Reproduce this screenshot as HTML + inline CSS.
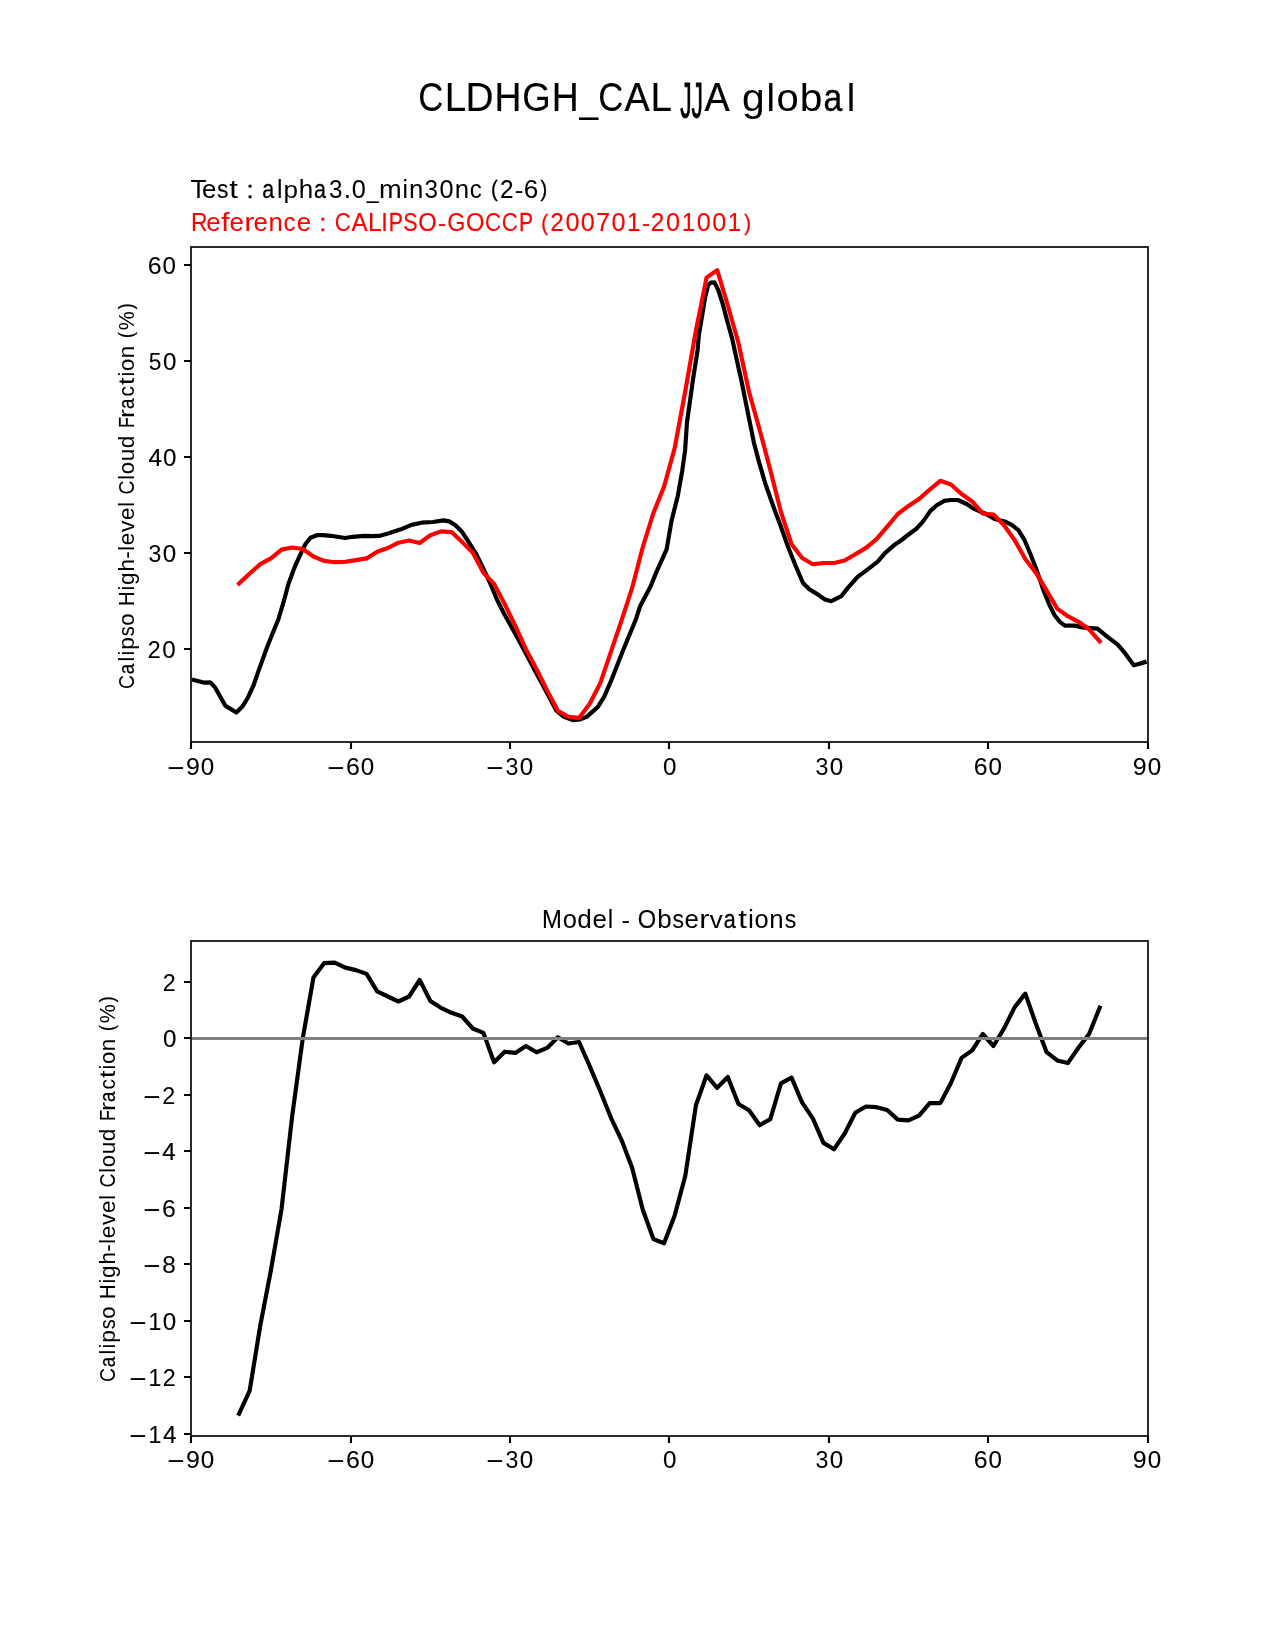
<!DOCTYPE html>
<html><head><meta charset="utf-8"><style>html,body{margin:0;padding:0;background:#fff}svg{display:block;will-change:transform}</style></head><body>
<svg width="1275" height="1650" viewBox="0 0 1275 1650">
<rect width="1275" height="1650" fill="#fff"/>
<defs><clipPath id="c1"><rect x="191.25" y="247.50" width="956.25" height="495.00"/></clipPath>
<clipPath id="c2"><rect x="191.25" y="940.50" width="956.25" height="495.00"/></clipPath></defs>
<g clip-path="url(#c1)" fill="none" stroke-width="4.17" stroke-linejoin="round" stroke-linecap="square">
<polyline stroke="#000" points="193.90,680.00 204.50,682.70 210.10,682.30 215.10,687.40 225.20,705.60 236.40,712.50 242.70,706.20 247.70,698.00 253.40,685.70 257.80,672.90 267.80,645.30 278.50,619.00 284.10,600.20 288.50,583.80 295.40,565.30 302.30,550.30 305.50,544.00 310.50,537.70 316.80,535.20 323.00,535.20 331.20,535.80 335.60,536.50 345.00,538.00 352.70,536.80 364.00,535.90 371.50,536.20 379.00,535.90 388.90,533.30 400.20,529.60 411.50,524.90 421.50,522.70 432.80,522.00 443.50,520.40 449.20,521.40 455.40,525.20 461.70,531.40 466.70,539.00 475.50,552.80 483.00,567.80 490.60,584.20 496.80,599.20 504.40,614.30 516.30,635.40 526.30,654.20 537.60,675.50 547.70,694.30 556.40,710.70 564.00,716.90 572.80,720.10 580.30,719.40 586.60,716.90 597.90,706.90 604.10,696.90 611.70,679.30 623.00,650.40 635.50,620.30 640.20,606.00 650.30,587.00 656.50,571.90 666.60,549.30 671.60,520.50 677.90,495.40 682.30,470.30 685.10,450.00 687.00,422.10 690.10,400.20 693.20,378.20 697.60,350.00 698.80,335.30 702.00,316.50 705.10,297.60 708.20,285.10 710.70,282.60 714.50,282.30 718.30,290.10 722.70,303.90 727.70,322.70 732.10,338.40 736.80,360.00 741.30,380.00 746.30,405.10 750.10,423.90 753.90,442.70 758.90,461.60 765.40,483.90 772.90,505.30 780.40,525.30 788.00,546.70 795.50,565.50 803.00,583.00 809.30,589.30 815.60,593.10 825.00,599.40 831.30,601.20 841.30,596.20 847.60,588.10 857.60,576.80 867.70,569.30 877.70,561.70 885.20,552.90 895.30,544.20 900.30,541.00 906.60,536.00 916.60,528.50 922.90,521.60 930.40,510.90 936.70,505.30 944.20,500.90 950.50,500.00 958.00,500.00 966.80,504.00 973.10,508.40 987.00,514.50 994.50,518.90 1004.60,521.40 1012.10,525.20 1018.40,530.20 1024.60,540.20 1030.90,555.30 1037.20,571.60 1043.50,590.40 1049.70,605.50 1054.80,615.50 1059.80,621.80 1064.80,625.60 1074.80,625.60 1082.40,627.40 1089.90,628.10 1097.40,628.70 1107.50,636.90 1117.50,644.40 1125.00,653.20 1133.80,665.30 1137.60,664.20 1144.60,662.20"/>
<polyline stroke="#f00" points="239.06,583.50 249.69,573.50 260.31,564.10 270.94,558.40 281.56,549.60 292.19,547.50 302.81,549.00 313.44,556.50 324.06,560.90 334.69,562.20 345.31,561.80 355.94,560.10 366.56,558.40 377.19,551.80 387.81,548.00 398.44,542.70 409.06,540.50 419.69,543.00 430.31,535.20 440.94,531.40 451.56,532.10 462.19,542.10 472.81,552.80 483.44,572.90 494.06,583.90 504.69,604.00 515.31,626.00 525.94,649.20 536.56,669.20 547.19,690.60 557.81,710.70 568.44,716.90 579.06,717.90 589.69,703.80 600.31,683.10 610.94,651.70 621.56,620.30 632.19,587.70 642.81,547.00 653.44,512.90 664.06,486.60 674.69,448.00 685.31,391.00 695.94,330.30 706.56,277.60 717.19,270.10 727.81,305.50 738.44,343.00 749.06,392.00 759.69,430.00 770.31,470.00 780.94,512.00 791.56,544.20 802.19,558.00 812.81,564.20 823.44,563.00 834.06,563.00 844.69,560.50 855.31,554.20 865.94,547.90 876.56,539.10 887.19,526.60 897.81,514.00 908.44,505.90 919.06,499.00 929.69,489.60 940.31,480.80 950.94,484.50 961.56,494.00 972.19,501.50 982.81,513.50 993.44,514.50 1004.06,525.20 1014.69,540.20 1025.31,559.10 1035.94,572.90 1046.56,590.40 1057.19,608.60 1067.81,616.20 1078.44,621.80 1089.06,629.30 1099.69,641.30"/>
</g>
<g clip-path="url(#c2)" fill="none" stroke-linejoin="round" stroke-linecap="square">
<polyline stroke="#000" stroke-width="4.17" points="239.06,1413.80 249.69,1390.60 260.31,1325.30 270.94,1270.10 281.56,1209.00 292.19,1116.00 302.81,1038.00 313.44,977.60 324.06,963.20 334.69,962.60 345.31,967.60 355.94,970.10 366.56,973.90 377.19,991.40 387.81,996.50 398.44,1001.50 409.06,996.50 419.69,980.00 430.31,1000.90 440.94,1007.80 451.56,1012.80 462.19,1016.50 472.81,1028.50 483.44,1032.90 494.06,1062.30 504.69,1051.70 515.31,1052.90 525.94,1046.00 536.56,1052.30 547.19,1047.90 557.81,1037.30 568.44,1043.50 579.06,1042.00 589.69,1066.20 600.31,1091.30 610.94,1117.80 621.56,1140.10 632.19,1168.00 642.81,1209.80 653.44,1239.10 664.06,1243.30 674.69,1215.40 685.31,1175.70 695.94,1105.30 706.56,1075.30 717.19,1087.80 727.81,1077.00 738.44,1104.00 749.06,1110.30 759.69,1125.30 770.31,1119.10 780.94,1083.30 791.56,1077.60 802.19,1102.70 812.81,1118.40 823.44,1142.90 834.06,1149.20 844.69,1133.50 855.31,1112.80 865.94,1106.50 876.56,1107.20 887.19,1110.00 897.81,1119.60 908.44,1120.40 919.06,1115.60 929.69,1103.10 940.31,1103.10 950.94,1083.00 961.56,1057.90 972.19,1050.40 982.81,1034.00 993.44,1046.00 1004.06,1028.40 1014.69,1007.10 1025.31,993.60 1035.94,1024.00 1046.56,1052.20 1057.19,1060.40 1067.81,1063.10 1078.44,1047.80 1089.06,1034.00 1099.69,1007.70"/>
<line x1="191.25" x2="1147.50" y1="1038.5" y2="1038.5" stroke="#808080" stroke-width="3" stroke-linecap="butt"/>
</g>
<rect x="191" y="247" width="957" height="495" fill="none" stroke="#000" stroke-width="1.67" stroke-linejoin="miter"/>
<rect x="191" y="941" width="957" height="495" fill="none" stroke="#000" stroke-width="1.67" stroke-linejoin="miter"/>
<path d="M191 742V749.00M351 742V749.00M510 742V749.00M669 742V749.00M829 742V749.00M988 742V749.00M1148 742V749.00M191 1436V1443.00M351 1436V1443.00M510 1436V1443.00M669 1436V1443.00M829 1436V1443.00M988 1436V1443.00M1148 1436V1443.00M191 649H184.00M191 553H184.00M191 457H184.00M191 361H184.00M191 265H184.00M191 982H184.00M191 1038H184.00M191 1095H184.00M191 1151H184.00M191 1208H184.00M191 1264H184.00M191 1321H184.00M191 1377H184.00M191 1434H184.00" stroke="#000" stroke-width="2.08" fill="none"/>
<g font-family="Liberation Sans, sans-serif">
<g font-size="37.50" fill="#000" stroke="#000"><text transform="matrix(0.928 0 0 1.068 418.20 111.23)" stroke-width="0.03">C</text><text transform="matrix(1.029 0 0 1.060 444.63 111.10)" stroke-width="0.11">L</text><text transform="matrix(1.035 0 0 1.060 465.49 111.10)" stroke-width="0.13">D</text><text transform="matrix(0.995 0 0 1.060 494.48 111.10)" stroke-width="0.18">H</text><text transform="matrix(0.975 0 0 1.068 522.27 111.23)" stroke-width="0.10">G</text><text transform="matrix(0.995 0 0 1.060 551.73 111.10)" stroke-width="0.18">H</text><text transform="matrix(0.892 0 0 1.104 579.38 111.74)" stroke-width="0.02">_</text><text transform="matrix(0.928 0 0 1.068 598.33 111.23)" stroke-width="0.03">C</text><text transform="matrix(1.008 0 0 1.060 624.45 111.10)" stroke-width="0.22">A</text><text transform="matrix(1.029 0 0 1.060 650.38 111.10)" stroke-width="0.11">L</text><text transform="matrix(0.606 0 0 1.332 680.28 118.21)" stroke-width="0.66">J</text><text transform="matrix(0.606 0 0 1.332 691.41 118.21)" stroke-width="0.66">J</text><text transform="matrix(1.008 0 0 1.060 704.45 111.10)" stroke-width="0.22">A</text><text transform="matrix(1.087 0 0 1.032 742.10 110.86)" stroke="none">g</text><text transform="matrix(1.023 0 0 1.049 766.57 111.10)" stroke-width="0.02">l</text><text transform="matrix(1.064 0 0 1.047 776.38 111.24)" stroke-width="0.05">o</text><text transform="matrix(1.089 0 0 1.054 799.77 111.24)" stroke="none">b</text><text transform="matrix(0.898 0 0 1.047 823.57 111.24)" stroke-width="0.38">a</text><text transform="matrix(1.023 0 0 1.049 846.69 111.10)" stroke-width="0.02">l</text></g>
<g font-size="23.96" fill="#000" stroke="#000"><text transform="matrix(1.092 0 0 1.060 190.40 198.00)" stroke-width="0.02">T</text><text transform="matrix(1.079 0 0 1.048 201.94 198.10)" stroke="none">e</text><text transform="matrix(0.958 0 0 1.051 217.11 198.10)" stroke-width="0.09">s</text><text transform="matrix(1.300 0 0 1.074 229.24 197.80)" stroke="none">t</text><text transform="matrix(1.075 0 0 0.978 246.54 198.00)" stroke-width="0.32">:</text><text transform="matrix(0.900 0 0 1.048 262.23 198.10)" stroke-width="0.26">a</text><text transform="matrix(1.022 0 0 1.049 277.06 198.00)" stroke-width="0.02">l</text><text transform="matrix(1.087 0 0 1.031 283.58 197.86)" stroke="none">p</text><text transform="matrix(1.085 0 0 1.049 298.70 198.00)" stroke="none">h</text><text transform="matrix(0.900 0 0 1.048 313.98 198.10)" stroke-width="0.26">a</text><text transform="matrix(1.012 0 0 1.068 329.10 198.09)" stroke="none">3</text><text transform="matrix(1.082 0 0 1.165 343.65 198.00)" stroke-width="0.02">.</text><text transform="matrix(1.054 0 0 1.068 351.79 198.09)" stroke-width="0.09">0</text><text transform="matrix(0.892 0 0 1.103 366.66 198.40)" stroke-width="0.02">_</text><text transform="matrix(1.139 0 0 1.040 378.95 198.00)" stroke="none">m</text><text transform="matrix(1.022 0 0 1.049 402.45 198.00)" stroke-width="0.07">i</text><text transform="matrix(1.077 0 0 1.040 408.92 198.00)" stroke="none">n</text><text transform="matrix(1.012 0 0 1.068 424.47 198.09)" stroke="none">3</text><text transform="matrix(1.054 0 0 1.068 439.42 198.09)" stroke-width="0.09">0</text><text transform="matrix(1.077 0 0 1.040 454.67 198.00)" stroke="none">n</text><text transform="matrix(1.002 0 0 1.048 469.64 198.10)" stroke="none">c</text><text transform="matrix(0.843 0 0 0.957 491.01 196.42)" stroke-width="0.36">(</text><text transform="matrix(1.016 0 0 1.062 500.00 198.00)" stroke-width="0.09">2</text><text transform="matrix(1.077 0 0 1.025 514.73 197.96)" stroke-width="0.02">-</text><text transform="matrix(1.092 0 0 1.068 523.67 198.09)" stroke-width="0.05">6</text><text transform="matrix(0.845 0 0 0.957 540.38 196.42)" stroke-width="0.36">)</text></g>
<g font-size="23.96" fill="#f00" stroke="#f00"><text transform="matrix(0.956 0 0 1.060 191.12 231.20)" stroke-width="0.05">R</text><text transform="matrix(1.079 0 0 1.048 206.37 231.30)" stroke="none">e</text><text transform="matrix(1.300 0 0 1.049 221.04 231.20)" stroke="none">f</text><text transform="matrix(1.079 0 0 1.048 229.50 231.30)" stroke="none">e</text><text transform="matrix(1.281 0 0 1.040 244.16 231.20)" stroke="none">r</text><text transform="matrix(1.079 0 0 1.048 253.62 231.30)" stroke="none">e</text><text transform="matrix(1.077 0 0 1.040 268.61 231.20)" stroke="none">n</text><text transform="matrix(1.002 0 0 1.048 283.58 231.30)" stroke="none">c</text><text transform="matrix(1.079 0 0 1.048 296.75 231.30)" stroke="none">e</text><text transform="matrix(1.075 0 0 0.978 319.35 231.20)" stroke-width="0.32">:</text><text transform="matrix(0.928 0 0 1.068 334.73 231.29)" stroke-width="0.03">C</text><text transform="matrix(1.007 0 0 1.060 351.41 231.20)" stroke-width="0.14">A</text><text transform="matrix(1.030 0 0 1.060 367.97 231.20)" stroke-width="0.07">L</text><text transform="matrix(1.056 0 0 1.060 381.03 231.20)" stroke-width="0.02">I</text><text transform="matrix(0.884 0 0 1.060 388.76 231.20)" stroke-width="0.25">P</text><text transform="matrix(0.893 0 0 1.068 403.24 231.29)" stroke-width="0.14">S</text><text transform="matrix(0.990 0 0 1.068 418.23 231.29)" stroke-width="0.13">O</text><text transform="matrix(1.077 0 0 1.025 437.67 231.16)" stroke-width="0.02">-</text><text transform="matrix(0.975 0 0 1.068 447.31 231.29)" stroke-width="0.07">G</text><text transform="matrix(0.990 0 0 1.068 465.98 231.29)" stroke-width="0.13">O</text><text transform="matrix(0.928 0 0 1.068 484.98 231.29)" stroke-width="0.03">C</text><text transform="matrix(0.928 0 0 1.068 501.73 231.29)" stroke-width="0.03">C</text><text transform="matrix(0.884 0 0 1.060 518.88 231.20)" stroke-width="0.25">P</text><text transform="matrix(0.843 0 0 0.957 541.20 229.62)" stroke-width="0.36">(</text><text transform="matrix(1.016 0 0 1.062 550.18 231.20)" stroke-width="0.09">2</text><text transform="matrix(1.054 0 0 1.068 565.48 231.29)" stroke-width="0.09">0</text><text transform="matrix(1.054 0 0 1.068 580.86 231.29)" stroke-width="0.09">0</text><text transform="matrix(1.032 0 0 1.060 596.34 231.20)" stroke-width="0.20">7</text><text transform="matrix(1.054 0 0 1.068 611.48 231.29)" stroke-width="0.09">0</text><text transform="matrix(1.008 0 0 1.060 627.06 231.20)" stroke-width="0.16">1</text><text transform="matrix(1.077 0 0 1.025 641.67 231.16)" stroke-width="0.02">-</text><text transform="matrix(1.016 0 0 1.062 650.81 231.20)" stroke-width="0.09">2</text><text transform="matrix(1.054 0 0 1.068 666.11 231.29)" stroke-width="0.09">0</text><text transform="matrix(1.008 0 0 1.060 681.69 231.20)" stroke-width="0.16">1</text><text transform="matrix(1.054 0 0 1.068 696.86 231.29)" stroke-width="0.09">0</text><text transform="matrix(1.054 0 0 1.068 712.23 231.29)" stroke-width="0.09">0</text><text transform="matrix(1.008 0 0 1.060 727.81 231.20)" stroke-width="0.16">1</text><text transform="matrix(0.845 0 0 0.957 744.19 229.62)" stroke-width="0.36">)</text></g>
<g font-size="23.96" fill="#000" stroke="#000"><text transform="matrix(0.996 0 0 1.060 542.04 927.70)" stroke-width="0.08">M</text><text transform="matrix(1.063 0 0 1.048 562.64 927.80)" stroke-width="0.04">o</text><text transform="matrix(1.088 0 0 1.054 577.36 927.80)" stroke="none">d</text><text transform="matrix(1.079 0 0 1.048 592.62 927.80)" stroke="none">e</text><text transform="matrix(1.022 0 0 1.049 607.75 927.70)" stroke-width="0.02">l</text><text transform="matrix(1.077 0 0 1.025 621.42 927.66)" stroke-width="0.02">-</text><text transform="matrix(0.990 0 0 1.068 637.86 927.79)" stroke-width="0.13">O</text><text transform="matrix(1.087 0 0 1.054 657.15 927.80)" stroke="none">b</text><text transform="matrix(0.958 0 0 1.051 672.54 927.80)" stroke-width="0.09">s</text><text transform="matrix(1.079 0 0 1.048 684.62 927.80)" stroke="none">e</text><text transform="matrix(1.281 0 0 1.040 699.29 927.70)" stroke="none">r</text><text transform="matrix(1.078 0 0 1.034 709.65 927.70)" stroke-width="0.03">v</text><text transform="matrix(0.900 0 0 1.048 723.79 927.80)" stroke-width="0.26">a</text><text transform="matrix(1.300 0 0 1.074 738.30 927.50)" stroke="none">t</text><text transform="matrix(1.022 0 0 1.049 748.14 927.70)" stroke-width="0.07">i</text><text transform="matrix(1.063 0 0 1.048 754.39 927.80)" stroke-width="0.04">o</text><text transform="matrix(1.077 0 0 1.040 769.36 927.70)" stroke="none">n</text><text transform="matrix(0.958 0 0 1.051 784.67 927.80)" stroke-width="0.09">s</text></g>
<g font-size="22.92" fill="#000" stroke="#000"><text transform="matrix(1.288 0 0 1.171 167.53 776.55)" stroke-width="0.02">−</text><text transform="matrix(1.088 0 0 1.069 185.97 774.89)" stroke-width="0.02">9</text><text transform="matrix(1.055 0 0 1.069 200.87 774.89)" stroke-width="0.09">0</text></g>
<g font-size="22.92" fill="#000" stroke="#000"><text transform="matrix(1.288 0 0 1.171 167.53 1469.55)" stroke-width="0.02">−</text><text transform="matrix(1.088 0 0 1.069 185.97 1467.89)" stroke-width="0.02">9</text><text transform="matrix(1.055 0 0 1.069 200.87 1467.89)" stroke-width="0.09">0</text></g>
<g font-size="22.92" fill="#000" stroke="#000"><text transform="matrix(1.288 0 0 1.171 327.53 776.55)" stroke-width="0.02">−</text><text transform="matrix(1.091 0 0 1.069 346.02 774.89)" stroke-width="0.05">6</text><text transform="matrix(1.055 0 0 1.069 360.87 774.89)" stroke-width="0.09">0</text></g>
<g font-size="22.92" fill="#000" stroke="#000"><text transform="matrix(1.288 0 0 1.171 327.53 1469.55)" stroke-width="0.02">−</text><text transform="matrix(1.091 0 0 1.069 346.02 1467.89)" stroke-width="0.05">6</text><text transform="matrix(1.055 0 0 1.069 360.87 1467.89)" stroke-width="0.09">0</text></g>
<g font-size="22.92" fill="#000" stroke="#000"><text transform="matrix(1.288 0 0 1.171 486.53 776.55)" stroke-width="0.02">−</text><text transform="matrix(1.013 0 0 1.069 505.55 774.89)" stroke="none">3</text><text transform="matrix(1.055 0 0 1.069 519.75 774.89)" stroke-width="0.09">0</text></g>
<g font-size="22.92" fill="#000" stroke="#000"><text transform="matrix(1.288 0 0 1.171 486.53 1469.55)" stroke-width="0.02">−</text><text transform="matrix(1.013 0 0 1.069 505.55 1467.89)" stroke="none">3</text><text transform="matrix(1.055 0 0 1.069 519.75 1467.89)" stroke-width="0.09">0</text></g>
<g font-size="22.92" fill="#000" stroke="#000"><text transform="matrix(1.055 0 0 1.069 663.04 774.89)" stroke-width="0.09">0</text></g>
<g font-size="22.92" fill="#000" stroke="#000"><text transform="matrix(1.055 0 0 1.069 663.04 1467.89)" stroke-width="0.09">0</text></g>
<g font-size="22.92" fill="#000" stroke="#000"><text transform="matrix(1.013 0 0 1.069 815.47 774.89)" stroke="none">3</text><text transform="matrix(1.055 0 0 1.069 829.66 774.89)" stroke-width="0.09">0</text></g>
<g font-size="22.92" fill="#000" stroke="#000"><text transform="matrix(1.013 0 0 1.069 815.47 1467.89)" stroke="none">3</text><text transform="matrix(1.055 0 0 1.069 829.66 1467.89)" stroke-width="0.09">0</text></g>
<g font-size="22.92" fill="#000" stroke="#000"><text transform="matrix(1.091 0 0 1.069 973.72 774.89)" stroke-width="0.05">6</text><text transform="matrix(1.055 0 0 1.069 988.57 774.89)" stroke-width="0.09">0</text></g>
<g font-size="22.92" fill="#000" stroke="#000"><text transform="matrix(1.091 0 0 1.069 973.72 1467.89)" stroke-width="0.05">6</text><text transform="matrix(1.055 0 0 1.069 988.57 1467.89)" stroke-width="0.09">0</text></g>
<g font-size="22.92" fill="#000" stroke="#000"><text transform="matrix(1.088 0 0 1.069 1132.83 774.89)" stroke-width="0.02">9</text><text transform="matrix(1.055 0 0 1.069 1147.73 774.89)" stroke-width="0.09">0</text></g>
<g font-size="22.92" fill="#000" stroke="#000"><text transform="matrix(1.088 0 0 1.069 1132.83 1467.89)" stroke-width="0.02">9</text><text transform="matrix(1.055 0 0 1.069 1147.73 1467.89)" stroke-width="0.09">0</text></g>
<g font-size="22.92" fill="#000" stroke="#000"><text transform="matrix(1.015 0 0 1.063 147.83 657.90)" stroke-width="0.08">2</text><text transform="matrix(1.055 0 0 1.069 162.37 657.99)" stroke-width="0.09">0</text></g>
<g font-size="22.92" fill="#000" stroke="#000"><text transform="matrix(1.013 0 0 1.069 148.47 561.99)" stroke="none">3</text><text transform="matrix(1.055 0 0 1.069 162.66 561.99)" stroke-width="0.09">0</text></g>
<g font-size="22.92" fill="#000" stroke="#000"><text transform="matrix(1.054 0 0 1.059 148.44 465.90)" stroke-width="0.16">4</text><text transform="matrix(1.055 0 0 1.069 162.93 465.99)" stroke-width="0.09">0</text></g>
<g font-size="22.92" fill="#000" stroke="#000"><text transform="matrix(0.994 0 0 1.065 148.66 370.00)" stroke-width="0.03">5</text><text transform="matrix(1.055 0 0 1.069 162.98 369.99)" stroke-width="0.09">0</text></g>
<g font-size="22.92" fill="#000" stroke="#000"><text transform="matrix(1.091 0 0 1.069 147.72 273.99)" stroke-width="0.05">6</text><text transform="matrix(1.055 0 0 1.069 162.57 273.99)" stroke-width="0.09">0</text></g>
<g font-size="22.92" fill="#000" stroke="#000"><text transform="matrix(1.015 0 0 1.063 162.83 990.90)" stroke-width="0.08">2</text></g>
<g font-size="22.92" fill="#000" stroke="#000"><text transform="matrix(1.055 0 0 1.069 163.04 1046.99)" stroke-width="0.09">0</text></g>
<g font-size="22.92" fill="#000" stroke="#000"><text transform="matrix(1.288 0 0 1.171 143.53 1105.65)" stroke-width="0.02">−</text><text transform="matrix(1.015 0 0 1.063 162.20 1103.90)" stroke-width="0.08">2</text></g>
<g font-size="22.92" fill="#000" stroke="#000"><text transform="matrix(1.288 0 0 1.171 143.53 1161.65)" stroke-width="0.02">−</text><text transform="matrix(1.054 0 0 1.059 162.25 1159.90)" stroke-width="0.16">4</text></g>
<g font-size="22.92" fill="#000" stroke="#000"><text transform="matrix(1.288 0 0 1.171 143.53 1218.65)" stroke-width="0.02">−</text><text transform="matrix(1.091 0 0 1.069 162.02 1216.99)" stroke-width="0.05">6</text></g>
<g font-size="22.92" fill="#000" stroke="#000"><text transform="matrix(1.288 0 0 1.171 143.53 1274.65)" stroke-width="0.02">−</text><text transform="matrix(1.065 0 0 1.069 162.18 1272.99)" stroke-width="0.11">8</text></g>
<g font-size="22.92" fill="#000" stroke="#000"><text transform="matrix(1.288 0 0 1.171 129.53 1331.65)" stroke-width="0.02">−</text><text transform="matrix(1.006 0 0 1.059 148.46 1329.90)" stroke-width="0.16">1</text><text transform="matrix(1.055 0 0 1.069 162.87 1329.99)" stroke-width="0.09">0</text></g>
<g font-size="22.92" fill="#000" stroke="#000"><text transform="matrix(1.288 0 0 1.171 129.53 1387.65)" stroke-width="0.02">−</text><text transform="matrix(1.006 0 0 1.059 148.46 1385.90)" stroke-width="0.16">1</text><text transform="matrix(1.015 0 0 1.063 162.83 1385.90)" stroke-width="0.08">2</text></g>
<g font-size="22.92" fill="#000" stroke="#000"><text transform="matrix(1.288 0 0 1.171 129.53 1444.65)" stroke-width="0.02">−</text><text transform="matrix(1.006 0 0 1.059 148.46 1442.90)" stroke-width="0.16">1</text><text transform="matrix(1.054 0 0 1.059 162.88 1442.90)" stroke-width="0.16">4</text></g>
<g font-size="20.83" fill="#000" stroke="#000"><text transform="matrix(0 -0.929 1.069 0 134.08 688.99)" stroke-width="0.04">C</text><text transform="matrix(0 -0.900 1.049 0 134.08 674.21)" stroke-width="0.24">a</text><text transform="matrix(0 -1.017 1.048 0 134.00 661.38)" stroke-width="0.02">l</text><text transform="matrix(0 -1.017 1.048 0 134.00 655.49)" stroke-width="0.06">i</text><text transform="matrix(0 -1.089 1.031 0 133.88 649.75)" stroke="none">p</text><text transform="matrix(0 -0.959 1.052 0 134.08 636.34)" stroke-width="0.08">s</text><text transform="matrix(0 -1.063 1.049 0 134.08 625.82)" stroke-width="0.05">o</text><text transform="matrix(0 -0.995 1.059 0 134.00 606.32)" stroke-width="0.10">H</text><text transform="matrix(0 -1.017 1.048 0 134.00 590.49)" stroke-width="0.06">i</text><text transform="matrix(0 -1.086 1.033 0 133.87 584.97)" stroke="none">g</text><text transform="matrix(0 -1.086 1.048 0 134.00 571.59)" stroke="none">h</text><text transform="matrix(0 -1.076 1.029 0 134.00 558.77)" stroke-width="0.02">-</text><text transform="matrix(0 -1.017 1.048 0 134.00 550.76)" stroke-width="0.02">l</text><text transform="matrix(0 -1.079 1.049 0 134.08 545.23)" stroke-width="0.01">e</text><text transform="matrix(0 -1.080 1.035 0 134.00 532.01)" stroke-width="0.04">v</text><text transform="matrix(0 -1.079 1.049 0 134.08 519.98)" stroke-width="0.01">e</text><text transform="matrix(0 -1.017 1.048 0 134.00 506.76)" stroke-width="0.02">l</text><text transform="matrix(0 -0.929 1.069 0 134.08 494.61)" stroke-width="0.04">C</text><text transform="matrix(0 -1.017 1.048 0 134.00 479.76)" stroke-width="0.02">l</text><text transform="matrix(0 -1.063 1.049 0 134.08 474.20)" stroke-width="0.05">o</text><text transform="matrix(0 -1.079 1.068 0 134.08 461.36)" stroke="none">u</text><text transform="matrix(0 -1.086 1.054 0 134.08 448.34)" stroke="none">d</text><text transform="matrix(0 -0.857 1.059 0 134.00 428.08)" stroke-width="0.16">F</text><text transform="matrix(0 -1.283 1.041 0 134.00 418.05)" stroke="none">r</text><text transform="matrix(0 -0.900 1.049 0 134.08 409.08)" stroke-width="0.24">a</text><text transform="matrix(0 -1.003 1.049 0 134.08 396.53)" stroke="none">c</text><text transform="matrix(0 -1.300 1.073 0 133.82 385.05)" stroke="none">t</text><text transform="matrix(0 -1.017 1.048 0 134.00 376.62)" stroke-width="0.06">i</text><text transform="matrix(0 -1.063 1.049 0 134.08 371.07)" stroke-width="0.05">o</text><text transform="matrix(0 -1.079 1.041 0 134.00 358.14)" stroke="none">n</text><text transform="matrix(0 -0.843 0.956 0 132.61 338.08)" stroke-width="0.32">(</text><text transform="matrix(0 -1.027 1.081 0 134.16 330.29)" stroke="none">%</text><text transform="matrix(0 -0.846 0.956 0 132.61 309.34)" stroke-width="0.33">)</text></g>
<g font-size="20.83" fill="#000" stroke="#000"><text transform="matrix(0 -0.929 1.069 0 115.08 1381.99)" stroke-width="0.04">C</text><text transform="matrix(0 -0.900 1.049 0 115.08 1367.21)" stroke-width="0.24">a</text><text transform="matrix(0 -1.017 1.048 0 115.00 1354.38)" stroke-width="0.02">l</text><text transform="matrix(0 -1.017 1.048 0 115.00 1348.49)" stroke-width="0.06">i</text><text transform="matrix(0 -1.089 1.031 0 114.88 1342.75)" stroke="none">p</text><text transform="matrix(0 -0.959 1.052 0 115.08 1329.34)" stroke-width="0.08">s</text><text transform="matrix(0 -1.063 1.049 0 115.08 1318.82)" stroke-width="0.05">o</text><text transform="matrix(0 -0.995 1.059 0 115.00 1299.32)" stroke-width="0.10">H</text><text transform="matrix(0 -1.017 1.048 0 115.00 1283.49)" stroke-width="0.06">i</text><text transform="matrix(0 -1.086 1.033 0 114.87 1277.97)" stroke="none">g</text><text transform="matrix(0 -1.086 1.048 0 115.00 1264.59)" stroke="none">h</text><text transform="matrix(0 -1.076 1.029 0 115.00 1251.77)" stroke-width="0.02">-</text><text transform="matrix(0 -1.017 1.048 0 115.00 1243.76)" stroke-width="0.02">l</text><text transform="matrix(0 -1.079 1.049 0 115.08 1238.23)" stroke-width="0.01">e</text><text transform="matrix(0 -1.080 1.035 0 115.00 1225.01)" stroke-width="0.04">v</text><text transform="matrix(0 -1.079 1.049 0 115.08 1212.98)" stroke-width="0.01">e</text><text transform="matrix(0 -1.017 1.048 0 115.00 1199.76)" stroke-width="0.02">l</text><text transform="matrix(0 -0.929 1.069 0 115.08 1187.61)" stroke-width="0.04">C</text><text transform="matrix(0 -1.017 1.048 0 115.00 1172.76)" stroke-width="0.02">l</text><text transform="matrix(0 -1.063 1.049 0 115.08 1167.20)" stroke-width="0.05">o</text><text transform="matrix(0 -1.079 1.068 0 115.08 1154.36)" stroke="none">u</text><text transform="matrix(0 -1.086 1.054 0 115.08 1141.34)" stroke="none">d</text><text transform="matrix(0 -0.857 1.059 0 115.00 1121.08)" stroke-width="0.16">F</text><text transform="matrix(0 -1.283 1.041 0 115.00 1111.05)" stroke="none">r</text><text transform="matrix(0 -0.900 1.049 0 115.08 1102.08)" stroke-width="0.24">a</text><text transform="matrix(0 -1.003 1.049 0 115.08 1089.53)" stroke="none">c</text><text transform="matrix(0 -1.300 1.073 0 114.82 1078.05)" stroke="none">t</text><text transform="matrix(0 -1.017 1.048 0 115.00 1069.62)" stroke-width="0.06">i</text><text transform="matrix(0 -1.063 1.049 0 115.08 1064.07)" stroke-width="0.05">o</text><text transform="matrix(0 -1.079 1.041 0 115.00 1051.14)" stroke="none">n</text><text transform="matrix(0 -0.843 0.956 0 113.61 1031.08)" stroke-width="0.32">(</text><text transform="matrix(0 -1.027 1.081 0 115.16 1023.29)" stroke="none">%</text><text transform="matrix(0 -0.846 0.956 0 113.61 1002.34)" stroke-width="0.33">)</text></g>
</g>
</svg>
</body></html>
